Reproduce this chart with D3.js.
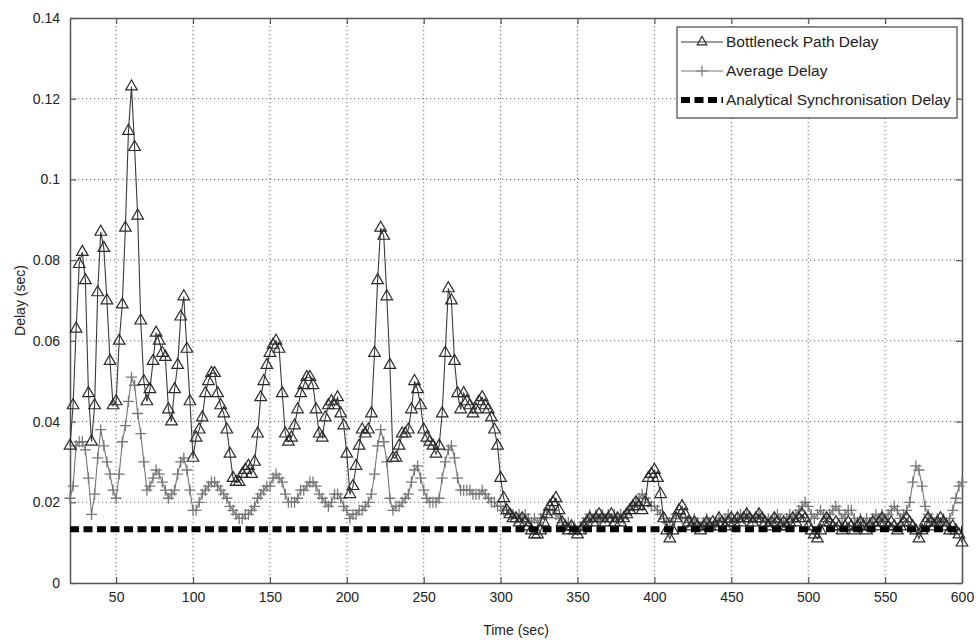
<script src="https://d3js.org/d3.v7.min.js"></script>

<style>
body { margin: 0; background: #fff; }
text { font-family: "Liberation Sans", Arial, sans-serif; }
</style>

<div id="container"></div>

<script>
// samples every 2 sec, starting at t = 20
var t0 = 20, dt = 2;

var bottleneck = [
  .034,.044,.063,.079,.082,.075,.047,.035,.044,.072,
  .087,.083,.070,.055,.044,.045,.060,.069,.088,.112,
  .123,.108,.091,.065,.050,.045,.048,.055,.062,.060,
  .057,.056,.043,.040,.048,.054,.066,.071,.058,.045,
  .031,.036,.038,.041,.047,.050,.052,.052,.047,.044,
  .042,.038,.032,.026,.025,.025,.027,.028,.029,.027,
  .030,.037,.046,.050,.054,.057,.059,.060,.058,.047,
  .037,.035,.036,.039,.043,.047,.049,.051,.051,.049,
  .043,.037,.036,.041,.044,.045,.044,.046,.042,.039,
  .032,.022,.024,.029,.034,.038,.037,.038,.042,.057,
  .075,.088,.086,.071,.054,.031,.031,.034,.037,.037,
  .038,.043,.050,.048,.044,.038,.036,.035,.034,.032,
  .034,.042,.057,.073,.070,.055,.047,.043,.047,.045,
  .044,.042,.043,.045,.046,.044,.043,.041,.038,.034,
  .026,.021,.018,.017,.016,.016,.015,.016,.015,.014,
  .013,.012,.012,.013,.015,.017,.019,.020,.021,.018,
  .015,.014,.013,.014,.013,.012,.013,.014,.015,.016,
  .015,.016,.017,.016,.015,.016,.017,.015,.016,.015,
  .016,.017,.018,.019,.020,.019,.018,.020,.026,.027,
  .028,.026,.022,.016,.013,.011,.013,.016,.018,.019,
  .017,.015,.014,.015,.014,.013,.014,.015,.014,.015,
  .014,.016,.015,.014,.015,.016,.015,.016,.015,.016,
  .017,.016,.015,.016,.017,.016,.015,.014,.015,.016,
  .015,.014,.015,.014,.015,.016,.015,.016,.017,.016,
  .014,.013,.012,.011,.013,.015,.016,.015,.014,.015,
  .014,.013,.014,.015,.014,.013,.014,.015,.014,.013,
  .014,.015,.014,.015,.016,.015,.014,.015,.014,.013,
  .014,.015,.016,.015,.014,.013,.011,.013,.015,.016,
  .015,.014,.015,.016,.015,.014,.013,.014,.013,.012,
  .010
];

var average = [
  .021,.024,.034,.035,.035,.033,.026,.017,.022,.031,
  .038,.034,.030,.027,.023,.021,.027,.035,.039,.045,
  .051,.049,.042,.037,.030,.023,.024,.026,.028,.027,
  .025,.023,.021,.022,.023,.027,.030,.031,.028,.023,
  .018,.018,.020,.022,.023,.024,.025,.025,.024,.023,
  .022,.021,.019,.018,.017,.016,.016,.017,.017,.018,
  .019,.021,.022,.023,.024,.024,.026,.027,.026,.025,
  .022,.020,.020,.020,.021,.023,.023,.024,.025,.025,
  .024,.022,.021,.020,.019,.020,.022,.022,.021,.019,
  .018,.016,.017,.017,.018,.018,.019,.020,.022,.027,
  .034,.038,.035,.030,.021,.018,.019,.019,.020,.021,
  .022,.025,.028,.029,.026,.023,.021,.020,.020,.020,
  .021,.026,.030,.033,.034,.031,.026,.023,.023,.023,
  .023,.022,.022,.022,.023,.022,.021,.020,.020,.019,
  .019,.018,.018,.017,.017,.016,.017,.016,.017,.016,
  .015,.016,.015,.016,.017,.017,.018,.018,.017,.016,
  .015,.014,.015,.014,.014,.013,.014,.015,.016,.017,
  .016,.017,.016,.017,.016,.017,.016,.017,.016,.017,
  .016,.017,.018,.019,.020,.021,.022,.021,.020,.019,
  .019,.018,.017,.016,.015,.015,.016,.017,.017,.016,
  .016,.015,.015,.016,.015,.014,.015,.016,.015,.014,
  .015,.016,.015,.016,.017,.016,.015,.016,.017,.016,
  .017,.016,.015,.016,.017,.016,.015,.016,.015,.016,
  .017,.016,.015,.016,.017,.016,.017,.018,.019,.020,
  .019,.017,.016,.017,.018,.017,.016,.017,.018,.019,
  .018,.016,.017,.018,.018,.016,.015,.016,.015,.016,
  .015,.016,.017,.016,.017,.016,.017,.018,.019,.018,
  .016,.017,.018,.020,.025,.029,.028,.024,.019,.017,
  .016,.015,.016,.015,.016,.015,.016,.018,.021,.024,
  .025
];

var analytical = 0.0133;

var xTicks = [50, 100, 150, 200, 250, 300, 350, 400, 450, 500, 550, 600];
var yTicks = [0, 0.02, 0.04, 0.06, 0.08, 0.1, 0.12, 0.14];
var seriesNames = ["Bottleneck Path Delay", "Average Delay", "Analytical Synchronisation Delay"];

var margin = { top: 18, left: 70, right: 14, bottom: 60 };
var width = 976 - margin.left - margin.right;
var height = 643 - margin.top - margin.bottom;

var svg = d3.select("#container").append("svg")
  .attr("width", 976)
  .attr("height", 643)
  .append("g")
  .attr("transform", "translate(" + margin.left + "," + margin.top + ")");

var xscale = d3.scaleLinear().domain([20, 600]).range([0, width]);
var yscale = d3.scaleLinear().domain([0, 0.14]).range([height, 0]);

var frameColor = "#555";

// dotted grid
svg.append("g")
  .selectAll("line.vg")
  .data(xTicks.slice(0, -1))
  .enter().append("line")
    .attr("x1", function (d) { return xscale(d); })
    .attr("x2", function (d) { return xscale(d); })
    .attr("y1", 0).attr("y2", height)
    .attr("stroke", "#666").attr("stroke-width", 1)
    .attr("stroke-dasharray", "1.2,2.8");
svg.append("g")
  .selectAll("line.hg")
  .data(yTicks.slice(1, -1))
  .enter().append("line")
    .attr("x1", 0).attr("x2", width)
    .attr("y1", function (d) { return yscale(d); })
    .attr("y2", function (d) { return yscale(d); })
    .attr("stroke", "#666").attr("stroke-width", 1)
    .attr("stroke-dasharray", "1.2,2.8");

// axes with inward ticks (box on)
function styleAxis(g) {
  g.select(".domain").attr("stroke", frameColor).attr("stroke-width", 1.5);
  g.selectAll(".tick line").attr("stroke", frameColor).attr("stroke-width", 1.2);
  g.selectAll(".tick text").attr("fill", "#222").style("font-size", "14px")
    .style("font-family", "'Liberation Sans', Arial, sans-serif");
}
svg.append("g")
  .attr("transform", "translate(0," + height + ")")
  .call(d3.axisBottom(xscale).tickValues(xTicks).tickFormat(d3.format("d"))
    .tickSizeInner(-6).tickSizeOuter(0).tickPadding(9))
  .call(styleAxis);
svg.append("g")
  .call(d3.axisTop(xscale).tickValues(xTicks).tickFormat("")
    .tickSizeInner(-6).tickSizeOuter(0))
  .call(styleAxis);
svg.append("g")
  .call(d3.axisLeft(yscale).tickValues(yTicks).tickFormat(function (d) { return d3.format("")(+d.toFixed(2)); })
    .tickSizeInner(-6).tickSizeOuter(0).tickPadding(10))
  .call(styleAxis);
svg.append("g")
  .attr("transform", "translate(" + width + ",0)")
  .call(d3.axisRight(yscale).tickValues(yTicks).tickFormat("")
    .tickSizeInner(-6).tickSizeOuter(0))
  .call(styleAxis);

// axis labels
svg.append("text")
  .attr("x", width / 2)
  .attr("y", height + 52)
  .style("text-anchor", "middle")
  .style("font-size", "14px")
  .attr("fill", "#222")
  .text("Time (sec)");
svg.append("text")
  .attr("transform", "rotate(-90)")
  .attr("x", -(height / 2))
  .attr("y", -45)
  .style("text-anchor", "middle")
  .style("font-size", "14px")
  .attr("fill", "#222")
  .text("Delay (sec)");

var plot = svg.append("g");

function toPoints(arr) {
  return arr.map(function (v, i) { return { t: t0 + i * dt, v: v }; });
}
var bPts = toPoints(bottleneck);
var aPts = toPoints(average);

var line = d3.line()
  .x(function (d) { return xscale(d.t); })
  .y(function (d) { return yscale(d.v); });

var plusPath = "M-5.5,0H5.5M0,-5.5V5.5";
var triSym = d3.symbol(d3.symbolTriangle, 58)();

// average delay (grey, plus markers)
plot.append("path")
  .datum(aPts)
  .attr("d", line)
  .attr("fill", "none")
  .attr("stroke", "#777")
  .attr("stroke-width", 1.1);
plot.append("g")
  .selectAll("path")
  .data(aPts)
  .enter().append("path")
    .attr("d", plusPath)
    .attr("transform", function (d) { return "translate(" + xscale(d.t) + "," + yscale(d.v) + ")"; })
    .attr("stroke", "#777")
    .attr("stroke-width", 1.3)
    .attr("fill", "none");

// bottleneck path delay (dark, triangle markers)
plot.append("path")
  .datum(bPts)
  .attr("d", line)
  .attr("fill", "none")
  .attr("stroke", "#3a3a3a")
  .attr("stroke-width", 1.1);
plot.append("g")
  .selectAll("path")
  .data(bPts)
  .enter().append("path")
    .attr("d", triSym)
    .attr("transform", function (d) { return "translate(" + xscale(d.t) + "," + yscale(d.v) + ")"; })
    .attr("stroke", "#2a2a2a")
    .attr("stroke-width", 1.2)
    .attr("fill", "none");

// analytical synchronisation delay
plot.append("line")
  .attr("x1", xscale(20)).attr("x2", xscale(600))
  .attr("y1", yscale(analytical)).attr("y2", yscale(analytical))
  .attr("stroke", "#000")
  .attr("stroke-width", 6)
  .attr("stroke-dasharray", "9,4.5");

// legend
var lx = 607, ly = 9, lw = 280, lh = 91;
var legend = svg.append("g").attr("transform", "translate(" + lx + "," + ly + ")");
legend.append("rect")
  .attr("width", lw).attr("height", lh)
  .attr("fill", "#fff")
  .attr("stroke", "#444")
  .attr("stroke-width", 1.2);

var rows = [15, 44, 73];
seriesNames.forEach(function (name, i) {
  var y = rows[i];
  var row = legend.append("g").attr("transform", "translate(0," + y + ")");
  if (i === 2) {
    row.append("line").attr("x1", 4).attr("x2", 46).attr("y1", 0).attr("y2", 0)
      .attr("stroke", "#000").attr("stroke-width", 6).attr("stroke-dasharray", "9,4.5");
  } else {
    row.append("line").attr("x1", 4).attr("x2", 46).attr("y1", 0).attr("y2", 0)
      .attr("stroke", i === 0 ? "#3a3a3a" : "#777").attr("stroke-width", 1.1);
    row.append("path")
      .attr("d", i === 0 ? d3.symbol(d3.symbolTriangle, 40)() : plusPath)
      .attr("transform", "translate(25,0)")
      .attr("stroke", i === 0 ? "#2a2a2a" : "#777")
      .attr("stroke-width", 1.2)
      .attr("fill", "none");
  }
  row.append("text")
    .attr("x", 49)
    .attr("y", 0)
    .attr("dy", "0.35em")
    .style("font-size", "15.5px")
    .attr("fill", "#222")
    .text(name);
});
</script>
